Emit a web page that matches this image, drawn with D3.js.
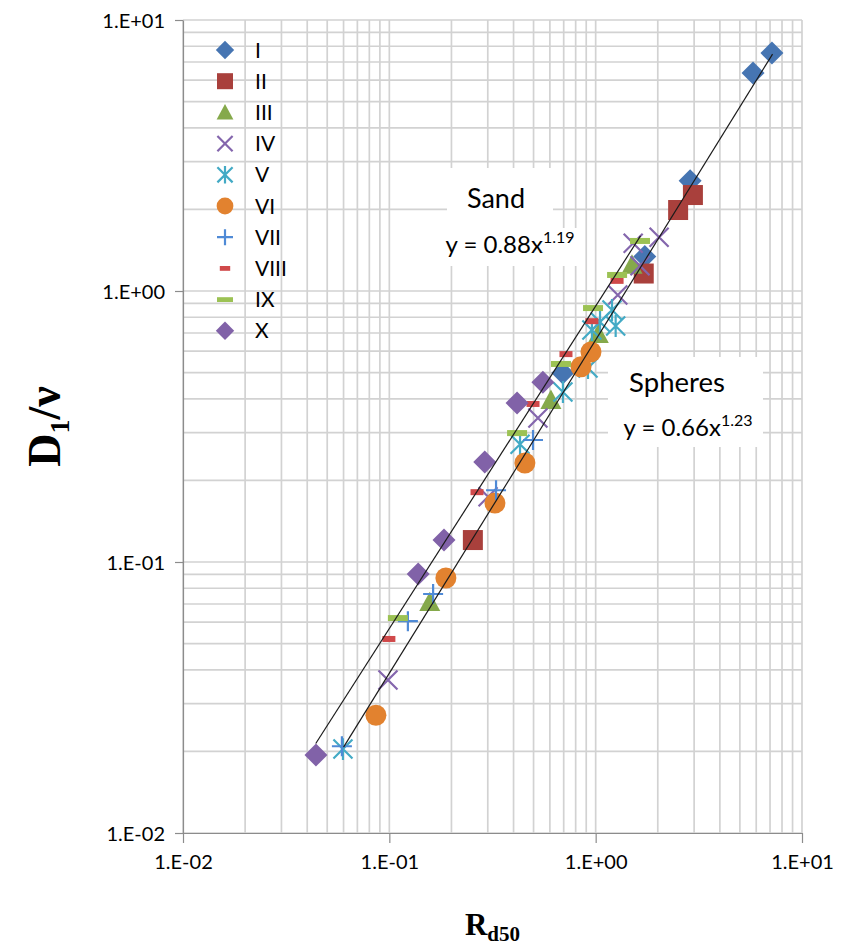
<!DOCTYPE html>
<html>
<head>
<meta charset="utf-8">
<script src="https://cdn.jsdelivr.net/npm/d3@7"></script>
<style>
  html, body { margin: 0; padding: 0; background: #ffffff; }
  svg { display: block; }
</style>
</head>
<body>
<div id="chart"></div>
<script>
// ---------------- DATA ----------------
const categories = ["I", "II", "III", "IV", "V", "VI", "VII", "VIII", "IX", "X"];

const rd50_I = [7.15, 5.79, 2.87, 1.73, 0.693];
const d1v_I  = [7.55, 6.37, 2.55, 1.34, 0.498];

const rd50_II = [2.96, 2.51, 1.71, 0.254];
const d1v_II  = [2.26, 1.99, 1.16, 0.1205];

const rd50_III = [1.50, 1.03, 0.607, 0.157];
const d1v_III  = [1.25, 0.693, 0.396, 0.0711];

const rd50_IV = [2.03, 1.52, 1.64, 1.28, 0.525, 0.301, 0.0985];
const d1v_IV  = [1.58, 1.50, 1.24, 0.966, 0.340, 0.174, 0.0367];

const rd50_V = [1.20, 1.05, 1.25, 0.959, 0.918, 0.694, 0.430, 0.0596];
const d1v_V  = [0.851, 0.769, 0.743, 0.718, 0.520, 0.424, 0.272, 0.0204];

const rd50_VI = [0.949, 0.849, 0.454, 0.325, 0.188, 0.0861];
const d1v_VI  = [0.596, 0.525, 0.232, 0.165, 0.0873, 0.0272];

const rd50_VII = [0.497, 0.329, 0.163, 0.123, 0.0589];
const d1v_VII  = [0.282, 0.184, 0.0762, 0.0605, 0.0209];

const rd50_VIII = [1.27, 0.959, 0.718, 0.497, 0.266, 0.0995];
const d1v_VIII  = [1.09, 0.774, 0.585, 0.383, 0.181, 0.052];

const rd50_IX = [1.64, 1.27, 0.971, 0.679, 0.416, 0.110];
const d1v_IX  = [1.53, 1.146, 0.865, 0.538, 0.299, 0.0621];

const rd50_X = [0.555, 0.416, 0.290, 0.184, 0.138, 0.0441];
const d1v_X  = [0.461, 0.386, 0.234, 0.1205, 0.0903, 0.0194];

// trendlines (power fits)
const trendNames = ["Sand", "Spheres"];
const trendCoef = [0.88, 0.66];
const trendExp = [1.19, 1.23];
const trendXMin = [0.044, 0.06];
const trendXMax = [1.65, 7.2];

// axis ticks
const majorTicks = [0.01, 0.1, 1, 10];
const xTickLabels = ["1.E-02", "1.E-01", "1.E+00", "1.E+01"];
const yTickLabels = ["1.E-02", "1.E-01", "1.E+00", "1.E+01"];

// ---------------- STYLE ----------------
const W = 847, H = 949;
const plot = { left: 183, right: 802, top: 20, bottom: 833 };
const sansFont = "Lato, 'Open Sans', 'Liberation Sans', sans-serif";
const serifFont = "'Liberation Serif', 'DejaVu Serif', serif";

const seriesX = [rd50_I, rd50_II, rd50_III, rd50_IV, rd50_V, rd50_VI, rd50_VII, rd50_VIII, rd50_IX, rd50_X];
const seriesY = [d1v_I, d1v_II, d1v_III, d1v_IV, d1v_V, d1v_VI, d1v_VII, d1v_VIII, d1v_IX, d1v_X];
const markerType = ["diamond", "square", "triangle", "x", "asterisk", "circle", "plus", "dashS", "dashL", "diamond"];
const markerColor = ["#4675B2", "#A9403C", "#85A94B", "#8466AD", "#43AAC5", "#E2822F", "#4F8AD6", "#D0494A", "#9CC254", "#8162A8"];

// ---------------- CHART ----------------
const svg = d3.select("#chart").append("svg")
  .attr("width", W).attr("height", H)
  .attr("viewBox", `0 0 ${W} ${H}`);

svg.append("rect").attr("width", W).attr("height", H).attr("fill", "#ffffff");

const x = d3.scaleLog().domain([0.01, 10]).range([plot.left, plot.right]);
const y = d3.scaleLog().domain([0.01, 10]).range([plot.bottom, plot.top]);

// gridlines (major + minor)
const grid = svg.append("g").attr("class", "grid");
grid.selectAll("line.v").data(x.ticks()).enter().append("line")
  .attr("x1", d => x(d)).attr("x2", d => x(d))
  .attr("y1", plot.top).attr("y2", plot.bottom)
  .attr("stroke", "#d2d2d2").attr("stroke-width", 1.7);
grid.selectAll("line.h").data(y.ticks()).enter().append("line")
  .attr("y1", d => y(d)).attr("y2", d => y(d))
  .attr("x1", plot.left).attr("x2", plot.right)
  .attr("stroke", "#d2d2d2").attr("stroke-width", 1.7);

// axes
const xAxis = svg.append("g")
  .attr("transform", `translate(0,${plot.bottom})`)
  .call(d3.axisBottom(x).tickValues(majorTicks).tickFormat((d, i) => xTickLabels[i]).tickSizeInner(10).tickSizeOuter(0).tickPadding(12));
const yAxis = svg.append("g")
  .attr("transform", `translate(${plot.left},0)`)
  .call(d3.axisLeft(y).tickValues(majorTicks).tickFormat((d, i) => yTickLabels[i]).tickSizeInner(8).tickSizeOuter(0).tickPadding(10));
[xAxis, yAxis].forEach(a => {
  a.select(".domain").attr("stroke", "#8c8c8c").attr("stroke-width", 1.2);
  a.selectAll(".tick line").attr("stroke", "#8c8c8c").attr("stroke-width", 1.2);
  a.selectAll(".tick text").attr("font-family", sansFont).attr("font-size", 20).attr("fill", "#000");
});
yAxis.selectAll(".tick text").attr("dy", "0.35em");

// annotation boxes (white backgrounds of labels)
const ann = svg.append("g");
ann.append("rect").attr("x", 447).attr("y", 168).attr("width", 106).attr("height", 62).attr("fill", "#fff");
ann.append("rect").attr("x", 438).attr("y", 228).attr("width", 143).attr("height", 38).attr("fill", "#fff");
ann.append("rect").attr("x", 608).attr("y", 357).attr("width", 155).attr("height", 90).attr("fill", "#fff");

// marker drawing
function drawMarker(sel, type, color, s) {
  if (type === "diamond") {
    const r = 11.5 * s;
    sel.append("path").attr("d", `M0,${-r}L${r},0L0,${r}L${-r},0Z`).attr("fill", color);
  } else if (type === "square") {
    const r = 10 * s;
    sel.append("rect").attr("x", -r).attr("y", -r).attr("width", 2 * r).attr("height", 2 * r).attr("fill", color);
  } else if (type === "triangle") {
    const r = 10.5 * s;
    sel.append("path").attr("d", `M0,${-r}L${r},${r * 0.85}L${-r},${r * 0.85}Z`).attr("fill", color);
  } else if (type === "circle") {
    sel.append("circle").attr("r", 10.5 * s).attr("fill", color);
  } else if (type === "x") {
    const r = 9.5 * s;
    sel.append("path").attr("d", `M${-r},${-r}L${r},${r}M${-r},${r}L${r},${-r}`)
      .attr("stroke", color).attr("stroke-width", 2.2).attr("fill", "none");
  } else if (type === "asterisk") {
    const r = 9.5 * s;
    sel.append("path").attr("d", `M${-r},${-r}L${r},${r}M${-r},${r}L${r},${-r}M0,${-r * 1.15}L0,${r * 1.15}`)
      .attr("stroke", color).attr("stroke-width", 2.2).attr("fill", "none");
  } else if (type === "plus") {
    const r = 10 * s;
    sel.append("path").attr("d", `M${-r},0L${r},0M0,${-r}L0,${r}`)
      .attr("stroke", color).attr("stroke-width", 2.2).attr("fill", "none");
  } else if (type === "dashS") {
    sel.append("rect").attr("x", -6.5 * s).attr("y", -3 * s).attr("width", 13 * s).attr("height", 6 * s).attr("fill", color);
  } else if (type === "dashL") {
    sel.append("rect").attr("x", -10 * s).attr("y", -3 * s).attr("width", 20 * s).attr("height", 6 * s).attr("fill", color);
  }
}

// points
const pts = svg.append("g").attr("class", "points");
categories.forEach((c, i) => {
  const g = pts.append("g");
  seriesX[i].forEach((xv, j) => {
    const m = g.append("g").attr("transform", `translate(${x(xv)},${y(seriesY[i][j])})`);
    drawMarker(m, markerType[i], markerColor[i], 1);
  });
});

// trendlines
const lineGen = d3.line().x(d => x(d[0])).y(d => y(d[1]));
trendNames.forEach((n, i) => {
  const xs = [trendXMin[i], trendXMax[i]];
  const data = xs.map(v => [v, trendCoef[i] * Math.pow(v, trendExp[i])]);
  svg.append("path").attr("d", lineGen(data))
    .attr("stroke", "#1a1a1a").attr("stroke-width", 1.2).attr("fill", "none");
});

// annotation texts
function eqText(xc, yb, coef, ex) {
  const t = svg.append("text").attr("x", xc).attr("y", yb)
    .attr("font-family", sansFont).attr("font-size", 24).attr("fill", "#000")
    .attr("text-anchor", "middle");
  t.append("tspan").text(`y = ${coef.toFixed(2)}x`);
  t.append("tspan").attr("font-size", 16).attr("dy", -10).text(ex.toFixed(2));
}
svg.append("text").attr("x", 496).attr("y", 208).attr("text-anchor", "middle")
  .attr("font-family", sansFont).attr("font-size", 27).attr("fill", "#000").text(trendNames[0]);
eqText(510, 253, trendCoef[0], trendExp[0]);
svg.append("text").attr("x", 677).attr("y", 392).attr("text-anchor", "middle")
  .attr("font-family", sansFont).attr("font-size", 27.5).attr("fill", "#000").text(trendNames[1]);
eqText(688, 436, trendCoef[1], trendExp[1]);

// legend
const legend = svg.append("g");
categories.forEach((c, i) => {
  const yy = 50 + i * 31.2;
  const m = legend.append("g").attr("transform", `translate(225,${yy})`);
  drawMarker(m, markerType[i], markerColor[i], 0.8);
  legend.append("text").attr("x", 255).attr("y", yy).attr("dy", "0.36em")
    .attr("font-family", sansFont).attr("font-size", 21).attr("fill", "#000").text(c);
});

// axis titles
const xt = svg.append("text").attr("x", (plot.left + plot.right) / 2).attr("y", 935)
  .attr("text-anchor", "middle").attr("font-family", serifFont).attr("font-weight", "bold")
  .attr("font-size", 31).attr("fill", "#000");
xt.append("tspan").text("R");
xt.append("tspan").attr("font-size", 21).attr("dy", 6).text("d50");

const yt = svg.append("text")
  .attr("transform", `translate(60,${(plot.top + plot.bottom) / 2}) rotate(-90)`)
  .attr("text-anchor", "middle").attr("font-family", serifFont).attr("font-weight", "bold")
  .attr("font-size", 46).attr("fill", "#000");
yt.append("tspan").text("D");
yt.append("tspan").attr("font-size", 28).attr("dy", 9).text("1");
yt.append("tspan").attr("dy", -9).text("/ν");
</script>
</body>
</html>
